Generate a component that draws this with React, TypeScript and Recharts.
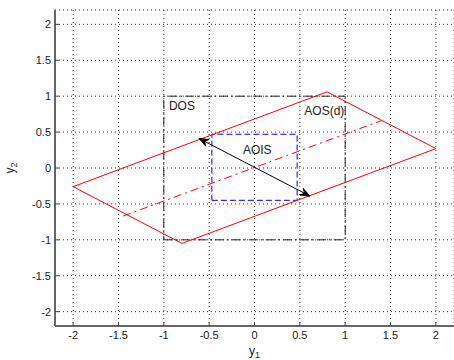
import React from 'react';
import { ComposedChart, Line, Scatter, XAxis, YAxis, CartesianGrid } from 'recharts';

const xTicks = [-2, -1.5, -1, -0.5, 0, 0.5, 1, 1.5, 2];
const yTicks = [-2, -1.5, -1, -0.5, 0, 0.5, 1, 1.5, 2];

// AOS(d) parallelogram (closed)
const aosX = [-2, -0.8, 2, 0.8, -2];
const aosY = [-0.26, -1.05, 0.27, 1.06, -0.26];
// red dash-dot centre line
const midX = [-1.45, 1.4];
const midY = [-0.67, 0.66];
// DOS box
const dosX = [-1, 1, 1, -1, -1];
const dosY = [-1, -1, 1, 1, -1];
// AOIS box
const aoisX = [-0.47, 0.47, 0.47, -0.47, -0.47];
const aoisY = [-0.45, -0.45, 0.47, 0.47, -0.45];
// double arrow
const arrowX = [-0.61, 0.61];
const arrowY = [0.41, -0.39];
// annotations
const noteText = ['DOS', 'AOS(d)', 'AOIS'];
const noteX = [-0.8, 0.77, 0.03];
const noteY = [0.87, 0.8, 0.25];

const zip = (xs: number[], ys: number[]) => xs.map((x, i) => ({ x, y: ys[i] }));

const aos = zip(aosX, aosY);
const mid = zip(midX, midY);
const dos = zip(dosX, dosY);
const aois = zip(aoisX, aoisY);
const arrow = zip(arrowX, arrowY);
const notes = noteText.map((text, i) => ({ x: noteX[i], y: noteY[i], text }));

const FONT = '"Liberation Sans", Arial, sans-serif';

const ArrowHead = (props: any) => {
  const { cx, cy, index, points } = props;
  if (!points || points.length < 2 || cx == null) return <g key={`ah-${index}`} />;
  const other = points[index === 0 ? 1 : 0];
  const a = Math.atan2(cy - other.y, cx - other.x);
  const len = 10;
  const s = 0.38;
  const p1 = [cx - len * Math.cos(a - s), cy - len * Math.sin(a - s)];
  const p2 = [cx - len * Math.cos(a + s), cy - len * Math.sin(a + s)];
  const n = [cx - len * 0.6 * Math.cos(a), cy - len * 0.6 * Math.sin(a)];
  return (
    <path
      key={`ah-${index}`}
      d={`M${p1[0]},${p1[1]}L${cx},${cy}L${p2[0]},${p2[1]}L${n[0]},${n[1]}Z`}
      fill="#000"
      stroke="#000"
      strokeWidth={1}
    />
  );
};

const NoteShape = (props: any) => (
  <text x={props.cx} y={props.cy} dy="0.35em" textAnchor="middle" fontSize={12} fontFamily={FONT} fill="#222">
    {props.payload.text}
  </text>
);

const XLabel = ({ viewBox }: any) => (
  <text x={viewBox.x + viewBox.width / 2} y={viewBox.y + 29} textAnchor="middle" fontSize={12} fontFamily={FONT} fill="#222">
    y<tspan fontSize={9} dy={3}>1</tspan>
  </text>
);

const YLabel = ({ viewBox }: any) => {
  const cx = 14;
  const cy = viewBox.y + viewBox.height / 2;
  return (
    <text x={cx} y={cy} transform={`rotate(-90 ${cx} ${cy})`} textAnchor="middle" fontSize={12} fontFamily={FONT} fill="#222">
      y<tspan fontSize={9} dy={3}>2</tspan>
    </text>
  );
};

export default function App() {
  const tickStyle = { fontSize: 11, fill: '#222', fontFamily: FONT };
  return (
    <div style={{ position: 'absolute', left: 0, top: 0, background: '#fff' }}>
      <ComposedChart width={454} height={360} margin={{ top: 10, right: 0, bottom: 4, left: 0 }}>
        <CartesianGrid stroke="#333" strokeDasharray="1 3" />
        <XAxis
          type="number"
          dataKey="x"
          domain={[-2.2, 2.2]}
          ticks={xTicks}
          allowDataOverflow
          height={30}
          tickSize={-4}
          tickMargin={9}
          tick={tickStyle}
          axisLine={{ stroke: '#666', strokeWidth: 2 }}
          tickLine={{ stroke: '#444' }}
          label={<XLabel />}
        />
        <YAxis
          type="number"
          dataKey="y"
          domain={[-2.2, 2.2]}
          ticks={yTicks}
          allowDataOverflow
          width={55}
          tickSize={-4}
          tickMargin={8}
          tick={tickStyle}
          axisLine={{ stroke: '#666', strokeWidth: 2 }}
          tickLine={{ stroke: '#444' }}
          label={<YLabel />}
        />
        <Line data={dos} dataKey="y" type="linear" stroke="#222" strokeWidth={1} strokeDasharray="9 3 2 3" dot={false} isAnimationActive={false} />
        <Line data={aois} dataKey="y" type="linear" stroke="#0000ff" strokeWidth={1} strokeDasharray="6 3" dot={false} isAnimationActive={false} />
        <Line data={aos} dataKey="y" type="linear" stroke="#ff0000" strokeWidth={1} dot={false} isAnimationActive={false} />
        <Line data={mid} dataKey="y" type="linear" stroke="#ff0000" strokeWidth={1} strokeDasharray="8 4 2 4" dot={false} isAnimationActive={false} />
        <Line data={arrow} dataKey="y" type="linear" stroke="#000" strokeWidth={1} dot={<ArrowHead />} isAnimationActive={false} />
        <Scatter data={notes} dataKey="y" shape={<NoteShape />} isAnimationActive={false} />
      </ComposedChart>
    </div>
  );
}
